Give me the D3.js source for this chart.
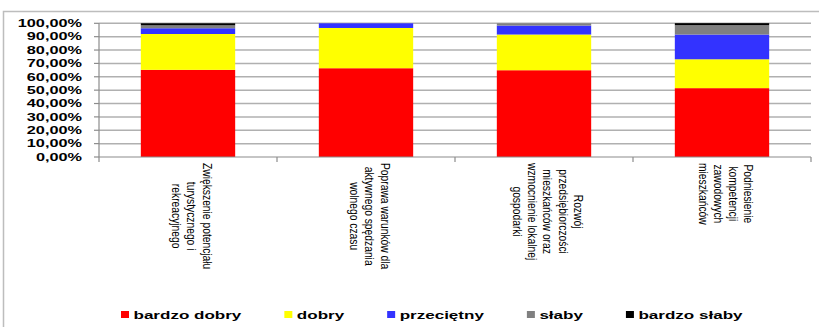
<!DOCTYPE html>
<html>
<head>
<meta charset="utf-8">
<script src="https://cdn.jsdelivr.net/npm/d3@7"></script>
<style>
  html, body { margin: 0; padding: 0; background: #fff; }
  svg { display: block; font-family: Arial, "Liberation Sans", sans-serif; }
</style>
</head>
<body>
<svg id="chart" width="819" height="327"></svg>
<script>
// Categories (multi-line axis labels) and the share of each rating, in %
const categories = [
  ["Zwiększenie potencjału", "turystycznego i", "rekreacyjnego"],
  ["Poprawa warunków dla", "aktywnego spędzania", "wolnego czasu"],
  ["Rozwój", "przedsiębiorczości", "mieszkańców oraz", "wzmocnienie lokalnej", "gospodarki"],
  ["Podniesienie", "kompetencji", "zawodowych", "mieszkańców"]
];
const seriesNames = ["bardzo dobry", "dobry", "przeciętny", "słaby", "bardzo słaby"];
const bardzoDobry = [65.2, 66.4, 64.9, 51.5];
const dobry       = [26.8, 30.1, 26.7, 21.6];
const przecietny  = [4.3, 3.5, 6.7, 18.5];
const slaby       = [2.2, 0, 1.7, 7.0];
const bardzoSlaby = [1.5, 0, 0, 1.5];
const yTicks = [0, 10, 20, 30, 40, 50, 60, 70, 80, 90, 100];
const colors = ["#ff0000", "#ffff00", "#3333ff", "#808080", "#000000"];

const seriesValues = [bardzoDobry, dobry, przecietny, slaby, bardzoSlaby];
const rows = categories.map((c, i) => {
  const r = { key: i };
  seriesNames.forEach((s, j) => { r[s] = seriesValues[j][i]; });
  return r;
});

const svg = d3.select("#chart");
const plotLeft = 99, plotRight = 811, plotTop = 23.3, plotBottom = 157;
const SX = 1.55;      // horizontal text stretch
const SX_CAT = 1.25;  // stretch of the rotated category labels

// outer frame (top and left edges)
svg.append("path")
  .attr("d", "M3.5,327 V11.5 H819")
  .attr("fill", "none").attr("stroke", "#bdbdbd").attr("stroke-width", 1.5);

const x = d3.scaleBand().domain(categories.map((c, i) => i)).range([plotLeft, plotRight]).paddingInner(0.47).paddingOuter(0.235);
const xOuter = d3.scaleBand().domain(categories.map((c, i) => i)).range([plotLeft, plotRight]);
const y = d3.scaleLinear().domain([0, 100]).range([plotBottom, plotTop]);

// gridlines
svg.append("g").selectAll("line").data(yTicks.filter(t => t > 0)).join("line")
  .attr("x1", plotLeft).attr("x2", plotRight)
  .attr("y1", d => y(d)).attr("y2", d => y(d))
  .attr("stroke", "#b0b0b0").attr("stroke-width", 1.5);

// stacked bars
const stack = d3.stack().keys(seriesNames)(rows);
svg.append("g").selectAll("g").data(stack).join("g")
  .attr("fill", (d, i) => colors[i])
  .selectAll("rect").data(d => d).join("rect")
  .attr("x", d => x(d.data.key))
  .attr("width", x.bandwidth())
  .attr("y", d => y(d[1]))
  .attr("height", d => y(d[0]) - y(d[1]));

// y axis
const yAxis = svg.append("g");
yAxis.append("line").attr("x1", plotLeft).attr("x2", plotLeft).attr("y1", plotTop).attr("y2", plotBottom)
  .attr("stroke", "#8c8c8c").attr("stroke-width", 1.2);
yAxis.selectAll("line.tick").data(yTicks).join("line").attr("class", "tick")
  .attr("x1", plotLeft - 5).attr("x2", plotLeft).attr("y1", d => y(d)).attr("y2", d => y(d))
  .attr("stroke", "#8c8c8c").attr("stroke-width", 1.2);
yAxis.selectAll("text").data(yTicks).join("text")
  .attr("transform", d => `translate(82,${y(d) + 3.8}) scale(${SX},1)`)
  .attr("text-anchor", "end")
  .attr("font-size", 10.5).attr("font-weight", "bold").attr("fill", "#000")
  .text(d => d3.format(".2f")(d).replace(".", ",") + "%");

// x axis
const xAxis = svg.append("g");
xAxis.append("line").attr("x1", plotLeft).attr("x2", plotRight).attr("y1", plotBottom).attr("y2", plotBottom)
  .attr("stroke", "#8c8c8c").attr("stroke-width", 1.2);
const bounds = categories.map((c, i) => xOuter(i)).concat([plotRight]);
xAxis.selectAll("line.tick").data(bounds).join("line").attr("class", "tick")
  .attr("x1", d => d).attr("x2", d => d).attr("y1", plotBottom).attr("y2", plotBottom + 5)
  .attr("stroke", "#8c8c8c").attr("stroke-width", 1.2);

// rotated category labels
const lineStep = 15.2 / SX_CAT;
categories.forEach((lines, i) => {
  const cx = xOuter(i) + xOuter.bandwidth() / 2 + 4;
  const g = svg.append("g")
    .attr("transform", `translate(${cx},163) scale(${SX_CAT},1) rotate(90)`);
  const t = g.selectAll("text").data(lines).join("text")
    .attr("font-size", 10.3).attr("fill", "#000")
    .attr("text-anchor", "middle")
    .attr("y", (d, k) => (k - (lines.length - 1) / 2) * lineStep + 3.6)
    .text(d => d);
  const maxLen = d3.max(t.nodes(), n => n.getComputedTextLength());
  t.attr("x", maxLen / 2);
});

// legend
const legend = svg.append("g");
let lx = 121;
seriesNames.forEach((name, i) => {
  legend.append("rect").attr("x", lx).attr("y", 311).attr("width", 8).attr("height", 7)
    .attr("fill", colors[i]);
  const txt = legend.append("text")
    .attr("transform", `translate(${lx + 12.5},318.5) scale(${SX},1)`)
    .attr("font-size", 11).attr("font-weight", "bold").attr("fill", "#000")
    .text(name);
  lx += 12.5 + txt.node().getComputedTextLength() * SX + 43;
});
</script>
</body>
</html>
